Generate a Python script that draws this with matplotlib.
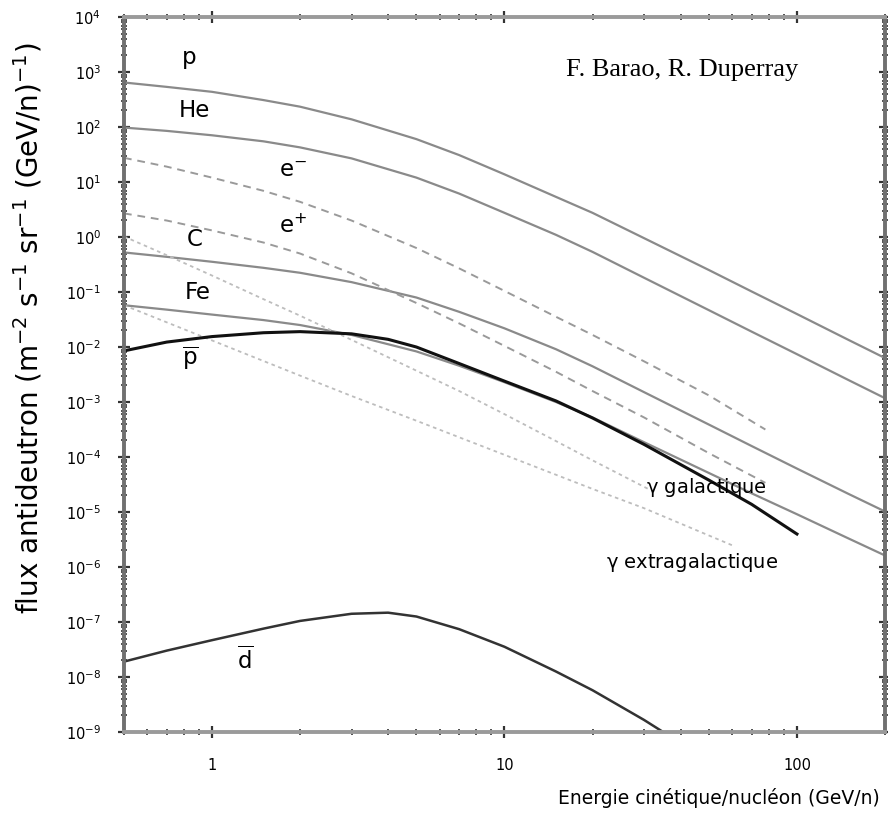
import matplotlib
matplotlib.use('Agg')
import matplotlib.pyplot as plt
from matplotlib.ticker import LogLocator, NullFormatter
import numpy as np

plt.rcParams['font.family'] = ['DejaVu Sans']
plt.rcParams['mathtext.fontset'] = 'dejavusans'
plt.rcParams['mathtext.default'] = 'regular'

# énergie cinétique par nucléon (GeV/n)
E = [0.5, 0.7, 1, 1.5, 2, 3, 5, 7, 10, 15, 20, 30, 50, 70, 100, 150, 200]

# flux (log10)
p_log = [2.81, 2.73, 2.64, 2.49, 2.37, 2.14, 1.78, 1.49, 1.14, 0.73, 0.44, -0.02, -0.60, -0.99, -1.40, -1.87, -2.20]
he_log = [1.99, 1.93, 1.85, 1.74, 1.63, 1.43, 1.08, 0.79, 0.44, 0.04, -0.27, -0.74, -1.33, -1.72, -2.13, -2.60, -2.93]
c_log = [-0.28, -0.36, -0.45, -0.56, -0.65, -0.82, -1.10, -1.36, -1.66, -2.04, -2.35, -2.82, -3.41, -3.80, -4.21, -4.67, -4.99]
fe_log = [-1.24, -1.32, -1.41, -1.51, -1.60, -1.78, -2.08, -2.34, -2.64, -3.00, -3.28, -3.73, -4.29, -4.66, -5.04, -5.48, -5.79]

E_lep = [0.5, 0.7, 1, 1.5, 2, 3, 5, 7, 10, 15, 20, 30, 50, 78]
em_log = [1.44, 1.28, 1.08, 0.84, 0.64, 0.30, -0.20, -0.57, -0.98, -1.45, -1.78, -2.26, -2.88, -3.50]
ep_log = [0.43, 0.30, 0.12, -0.10, -0.30, -0.66, -1.20, -1.57, -1.98, -2.45, -2.80, -3.28, -3.93, -4.47]

E_pbar = [0.5, 0.7, 1, 1.5, 2, 3, 4, 5, 7, 10, 15, 20, 30, 50, 70, 100]
pbar_log = [-2.07, -1.91, -1.81, -1.74, -1.72, -1.76, -1.86, -2.00, -2.30, -2.62, -2.98, -3.29, -3.77, -4.42, -4.86, -5.40]

E_gal = [0.5, 0.7, 1, 1.5, 2, 3, 5, 7, 10, 15, 20, 31]
gal_log = [0.01, -0.33, -0.70, -1.13, -1.43, -1.87, -2.43, -2.80, -3.22, -3.71, -4.06, -4.58]

E_xgal = [0.5, 1, 2, 3, 5, 10, 20, 30, 61]
xgal_log = [-1.24, -1.88, -2.52, -2.89, -3.34, -3.96, -4.58, -4.93, -5.62]

E_dbar = [0.5, 0.7, 1, 1.5, 2, 3, 4, 5, 7, 10, 15, 20, 30, 40]
dbar_log = [-7.72, -7.52, -7.33, -7.12, -6.98, -6.85, -6.83, -6.90, -7.13, -7.45, -7.90, -8.24, -8.78, -9.20]

fig = plt.figure(figsize=(8.88, 8.19), dpi=100)
ax = fig.add_axes([0.1396, 0.1062, 0.857, 0.873])

gris = '#8a8a8a'
ax.plot(E, 10**np.array(p_log), color=gris, lw=1.6)
ax.plot(E, 10**np.array(he_log), color=gris, lw=1.6)
ax.plot(E, 10**np.array(c_log), color=gris, lw=1.6)
ax.plot(E, 10**np.array(fe_log), color=gris, lw=1.6)
ax.plot(E_lep, 10**np.array(em_log), color='#9a9a9a', lw=1.4, ls=(0, (4, 3)))
ax.plot(E_lep, 10**np.array(ep_log), color='#9a9a9a', lw=1.4, ls=(0, (4, 3)))
ax.plot(E_gal, 10**np.array(gal_log), color='#bdbdbd', lw=1.3, ls=(0, (2, 2)))
ax.plot(E_xgal, 10**np.array(xgal_log), color='#bdbdbd', lw=1.3, ls=(0, (2, 2)))
ax.plot(E_pbar, 10**np.array(pbar_log), color='#111111', lw=2.2)
ax.plot(E_dbar, 10**np.array(dbar_log), color='#333333', lw=1.8)

ax.set_xscale('log')
ax.set_yscale('log')
ax.set_xlim(0.5, 200)
ax.set_ylim(1e-9, 1e4)

ax.yaxis.set_major_locator(LogLocator(base=10, numticks=20))
ax.yaxis.set_minor_locator(LogLocator(base=10, subs=np.arange(2, 10), numticks=20))
ax.yaxis.set_minor_formatter(NullFormatter())
ax.xaxis.set_minor_formatter(NullFormatter())
ax.set_xticks([1, 10, 100])
ax.set_xticklabels(['1', '10', '100'])

for s in ax.spines.values():
    s.set_color('#9a9a9a')
    s.set_linewidth(2.8)
ax.spines['left'].set_color('#707070')
ax.spines['right'].set_color('#707070')

ax.tick_params(which='both', direction='inout', top=True, right=True, colors='#333333')
ax.tick_params(which='major', length=9, width=1.6, labelsize=10.5, labelcolor='black')
ax.tick_params(which='minor', length=5, width=1.2)
ax.tick_params(axis='x', which='major', pad=14)
ax.tick_params(axis='y', which='major', pad=12)

ax.set_ylabel('flux antideutron (m$^{-2}$ s$^{-1}$ sr$^{-1}$ (GeV/n)$^{-1}$)', fontsize=20)
ax.yaxis.set_label_coords(-0.104, 0.565)
ax.set_xlabel('Energie cinétique/nucléon (GeV/n)', fontsize=13.5, ha='right')
ax.xaxis.set_label_coords(0.993, -0.078)

# étiquettes des courbes
fs = 16.5
kw = dict(fontsize=fs, va='center', ha='left')
ax.text(0.79, 1.8e3, 'p', **kw)
ax.text(0.77, 2.0e2, 'He', **kw)
ax.text(1.69, 1.66e1, 'e$^{-}$', **kw)
ax.text(1.69, 1.57e0, 'e$^{+}$', **kw)
ax.text(0.82, 9.1e-1, 'C', **kw)
ax.text(0.81, 1.0e-1, 'Fe', **kw)
ax.text(0.79, 6.2e-3, r'$\overline{\mathrm{p}}$', **kw)
ax.text(30.4, 2.8e-5, r'$\gamma$ galactique', fontsize=14, va='center', ha='left')
ax.text(22.2, 1.2e-6, r'$\gamma$ extragalactique', fontsize=14, va='center', ha='left')
ax.text(1.22, 2.0e-8, r'$\overline{\mathrm{d}}$', **kw)
ax.text(16.2, 1.1e3, 'F. Barao, R. Duperray', fontsize=19, family='Liberation Serif',
        va='center', ha='left')

fig.savefig('out.png', dpi=100)
